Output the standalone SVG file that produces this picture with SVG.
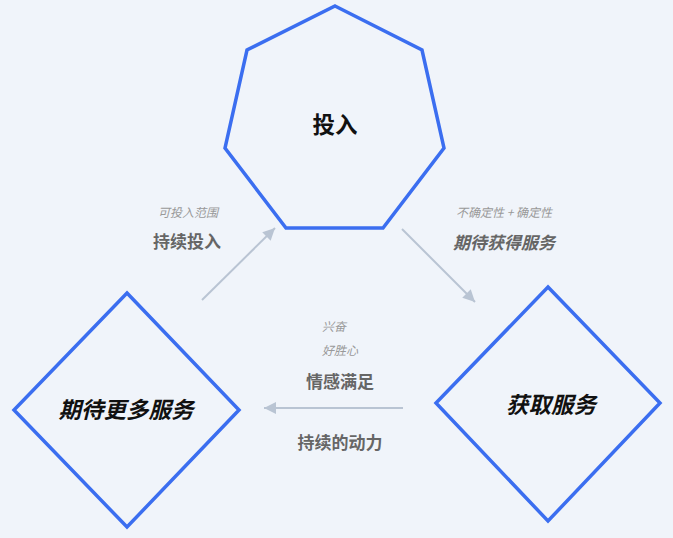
<svg xmlns="http://www.w3.org/2000/svg" width="673" height="538" viewBox="0 0 673 538">
<defs>
<style>
.shape{fill:none;stroke:#3b6ef0;stroke-width:3.5;stroke-linejoin:miter}
.node{font-family:"Noto Sans CJK SC","Noto Sans",sans-serif;font-size:22.5px;font-weight:bold;fill:#111;text-anchor:middle;dominant-baseline:central}
.lbl{font-family:"Noto Sans CJK SC","Noto Sans",sans-serif;font-size:17px;font-weight:bold;fill:#666;text-anchor:middle;dominant-baseline:central}
.sub{font-family:"Noto Sans CJK SC","Noto Sans",sans-serif;font-size:12px;fill:#999;font-style:italic;dominant-baseline:central}
.it{font-style:italic}
.conn{stroke:#b9c4d3;stroke-width:2;fill:none}
</style>
<marker id="ah" viewBox="0 0 10 10" refX="10" refY="5" markerWidth="7" markerHeight="6" markerUnits="strokeWidth" orient="auto">
<path d="M0,0 L10,5 L0,10 z" fill="#b9c4d3"/>
</marker>
</defs>
<rect width="673" height="538" fill="#f0f4fa"/>
<g id="connectors">
<line class="conn" x1="202" y1="300" x2="275" y2="228" marker-end="url(#ah)"/>
<line class="conn" x1="402" y1="229" x2="475" y2="302" marker-end="url(#ah)"/>
<line class="conn" x1="403" y1="408" x2="264" y2="408" marker-end="url(#ah)"/>
</g>
<g id="node-touru">
<polygon class="shape" points="335,6 422,50 444,148 383,228 286,228 225,148 247,50"/>
<text class="node" x="335" y="123">投入</text>
</g>
<g id="node-huoqu">
<polygon class="shape" points="548,287 660,403 548,521 436,403"/>
<text class="node it" x="551" y="403">获取服务</text>
</g>
<g id="node-qidai">
<polygon class="shape" points="127,293 239,410 127,527 14,410"/>
<text class="node it" x="126" y="408">期待更多服务</text>
</g>
<g id="labels">
<text class="sub" x="188" y="211" text-anchor="middle">可投入范围</text>
<text class="lbl" x="187" y="240">持续投入</text>
<text class="sub" x="504" y="211" text-anchor="middle">不确定性 + 确定性</text>
<text class="lbl it" x="504" y="241">期待获得服务</text>
<text class="sub" x="322" y="325">兴奋</text>
<text class="sub" x="322" y="349">好胜心</text>
<text class="lbl" x="340" y="380">情感满足</text>
<text class="lbl" x="340" y="441">持续的动力</text>
</g>
</svg>
